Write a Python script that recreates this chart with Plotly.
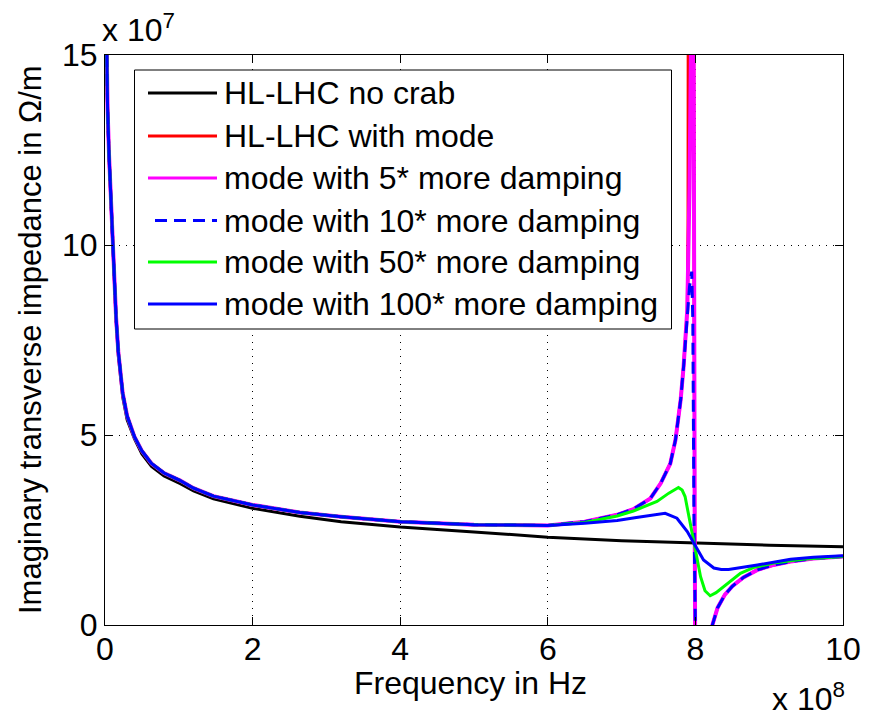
import plotly.graph_objects as go

# Values, in axis units:
# frequency in units of 1e8 Hz, impedance in units of 1e7 Ohm/m.

f_black = [0.01, 0.022, 0.035, 0.054, 0.09, 0.12, 0.15, 0.18, 0.24, 0.3, 0.4, 0.5,
           0.63, 0.8, 1.02, 1.2, 1.47, 2.0, 2.64, 3.2, 4.0, 5.0, 6.0, 7.0, 8.0, 9.0, 10.0]
z_black = [17.0, 15.0, 13.5, 12.3, 10.5, 9.2, 8.0, 7.1, 6.0, 5.4, 4.9, 4.5,
           4.17, 3.92, 3.72, 3.53, 3.32, 3.07, 2.86, 2.72, 2.58, 2.45, 2.31, 2.22, 2.16, 2.1, 2.06]

# all curves with the mode coincide below ~6e8 Hz
f_shared = [0.01, 0.022, 0.035, 0.054, 0.09, 0.12, 0.15, 0.18, 0.24, 0.3, 0.4, 0.5,
            0.63, 0.8, 1.02, 1.2, 1.47, 2.0, 2.64, 3.2, 4.0, 5.0, 6.0]
z_shared = [17.0, 15.0, 13.6, 12.4, 10.6, 9.3, 8.1, 7.2, 6.1, 5.5, 4.95, 4.58,
            4.25, 4.0, 3.8, 3.6, 3.39, 3.16, 2.96, 2.85, 2.72, 2.64, 2.62]

f_red_tail = [6.5, 6.94, 7.16, 7.39, 7.53, 7.66, 7.73, 7.80, 7.84, 7.89, 7.90, 7.915, 7.93,
              7.975, 7.99, 8.02, 8.05, 8.09, 8.13, 8.18, 8.23, 8.3, 8.4, 8.5, 8.65, 8.84, 9.06, 9.29, 9.6, 10.0]
z_red_tail = [2.72, 2.9, 3.05, 3.33, 3.73, 4.25, 4.87, 5.92, 6.8, 8.3, 10.5, 15.5, 80.0,
              17.0, 3.0, -12.0, -9.5, -5.5, -3.0, -1.2, 0.0, 0.45, 0.8, 1.02, 1.25, 1.45, 1.58, 1.67, 1.75, 1.8]

f_mag_tail = [6.5, 6.94, 7.16, 7.39, 7.53, 7.66, 7.73, 7.80, 7.84, 7.89, 7.92, 7.95, 7.975,
              7.99, 8.02, 8.05, 8.09, 8.13, 8.18, 8.23, 8.3, 8.4, 8.5, 8.65, 8.84, 9.06, 9.29, 9.6, 10.0]
z_mag_tail = [2.72, 2.9, 3.05, 3.33, 3.73, 4.25, 4.87, 5.92, 6.8, 8.3, 11.5, 17.0, 17.0,
              3.0, -12.0, -9.5, -5.5, -3.0, -1.2, 0.0, 0.45, 0.8, 1.02, 1.25, 1.45, 1.58, 1.67, 1.75, 1.8]

f_d10_tail = [6.5, 6.94, 7.16, 7.39, 7.53, 7.66, 7.73, 7.80, 7.84, 7.89, 7.92, 7.95, 7.965,
              7.98, 7.99, 8.01, 8.03, 8.06, 8.1, 8.16, 8.23, 8.3, 8.4, 8.5, 8.65, 8.84, 9.06, 9.29, 9.6, 10.0]
z_d10_tail = [2.72, 2.9, 3.05, 3.33, 3.73, 4.25, 4.87, 5.92, 6.8, 8.1, 8.9, 9.3, 8.0,
              3.0, -1.0, -4.5, -4.8, -4.2, -2.5, -1.0, 0.0, 0.45, 0.8, 1.02, 1.25, 1.45, 1.58, 1.67, 1.75, 1.8]

f_d50_tail = [6.5, 6.94, 7.16, 7.48, 7.64, 7.72, 7.77, 7.82, 7.86, 7.93, 8.0, 8.07, 8.13,
              8.2, 8.28, 8.38, 8.47, 8.61, 8.8, 9.06, 9.5, 10.0]
z_d50_tail = [2.7, 2.87, 3.0, 3.25, 3.47, 3.57, 3.62, 3.55, 3.38, 2.68, 1.97, 1.27, 0.9,
              0.77, 0.85, 1.01, 1.14, 1.36, 1.52, 1.63, 1.74, 1.8]

f_d100_tail = [6.5, 6.94, 7.2, 7.39, 7.59, 7.75, 7.89, 7.98, 8.11, 8.25, 8.35, 8.45,
               8.6, 8.84, 9.29, 9.6, 10.0]
z_d100_tail = [2.68, 2.75, 2.83, 2.89, 2.94, 2.81, 2.46, 2.15, 1.71, 1.5, 1.46, 1.46,
               1.5, 1.58, 1.73, 1.78, 1.82]

legend_labels = ["HL-LHC no crab", "HL-LHC with mode", "mode with 5* more damping",
                 "mode with 10* more damping", "mode with 50* more damping",
                 "mode with 100* more damping"]
x_ticks = [0, 2, 4, 6, 8, 10]
y_ticks = [0, 5, 10, 15]

FONT = "Liberation Sans, Arial, sans-serif"
FS = 32
FS_Y = 31
LW = 3

series = [
    (f_black, z_black, "#000000", "solid", LW),
    (f_shared + f_red_tail, z_shared + z_red_tail, "#ff0000", "solid", LW),
    (f_shared + f_mag_tail, z_shared + z_mag_tail, "#ff00ff", "solid", 4),
    (f_shared + f_d10_tail, z_shared + z_d10_tail, "#0000ff", "12px,7px", LW),
    (f_shared + f_d50_tail, z_shared + z_d50_tail, "#00ff00", "solid", LW),
    (f_shared + f_d100_tail, z_shared + z_d100_tail, "#0000ff", "solid", LW),
]

fig = go.Figure()
for (fx, zy, col, dash, lw), name in zip(series, legend_labels):
    fig.add_trace(go.Scatter(x=fx, y=zy, mode="lines", name=name,
                             line=dict(color=col, width=lw, dash=dash),
                             showlegend=False, hoverinfo="skip"))

# page offset of the figure (browser body margin)
OFF = 8
PL, PR, PT, PB = 105, 843, 55, 625   # plot area in page pixels
W, H = 870 - OFF, 710 - OFF
L, T = PL - OFF, PT - OFF
R = OFF + W - PR
B = OFF + H - PB
pw, ph = PR - PL, PB - PT

def px(x):
    return (x - PL) / pw

def py(y):
    return (PB - y) / ph

shapes = []
annotations = []
# legend box
shapes.append(dict(type="rect", xref="paper", yref="paper",
                   x0=px(134.5), x1=px(671.5), y0=py(329), y1=py(70),
                   fillcolor="white", line=dict(color="black", width=1), layer="above"))
rows = [93, 136, 178, 220.5, 262, 304]
for (fx, zy, col, dash, lw), name, ry in zip(series, legend_labels, rows):
    x0 = 155 if dash != "solid" else 148
    shapes.append(dict(type="line", xref="paper", yref="paper",
                       x0=px(x0), x1=px(217), y0=py(ry), y1=py(ry),
                       line=dict(color=col, width=LW, dash=dash), layer="above"))
    annotations.append(dict(text=name, xref="paper", yref="paper", x=px(222), y=py(ry),
                            xanchor="left", yanchor="middle", showarrow=False,
                            font=dict(family=FONT, size=FS, color="black")))

# axis titles and multipliers
annotations.append(dict(text="Frequency in Hz", xref="paper", yref="paper", x=px(470), y=py(683),
                        xanchor="center", yanchor="middle", showarrow=False,
                        font=dict(family=FONT, size=FS, color="black")))
annotations.append(dict(text="Imaginary transverse impedance in Ω/m", xref="paper", yref="paper",
                        x=px(30), y=py(340), xanchor="center", yanchor="middle", textangle=-90,
                        showarrow=False, font=dict(family=FONT, size=FS_Y, color="black")))
annotations.append(dict(text="x 10<sup>7</sup>", xref="paper", yref="paper", x=px(100), y=py(50),
                        xanchor="left", yanchor="bottom", showarrow=False,
                        font=dict(family=FONT, size=FS, color="black")))
annotations.append(dict(text="x 10<sup>8</sup>", xref="paper", yref="paper", x=px(847), y=py(675),
                        xanchor="right", yanchor="top", showarrow=False,
                        font=dict(family=FONT, size=FS, color="black")))

axis_common = dict(showline=True, linecolor="black", linewidth=1, mirror="ticks",
                   ticks="inside", ticklen=8, tickcolor="black", tickwidth=1,
                   showgrid=True, gridcolor="black", gridwidth=1, griddash="1px,6px",
                   zeroline=False, tickfont=dict(family=FONT, size=FS, color="black"))

fig.update_layout(
    width=W, height=H,
    margin=dict(l=L, r=R, t=T, b=B, pad=0, autoexpand=False),
    paper_bgcolor="white", plot_bgcolor="white",
    xaxis=dict(range=[0, 10], tickvals=x_ticks, ticktext=[str(v) for v in x_ticks],
               automargin=False, ticklabelstandoff=-4, **axis_common),
    yaxis=dict(range=[0, 15], tickvals=y_ticks, ticktext=[str(v) for v in y_ticks],
               automargin=False, **axis_common),
    shapes=shapes, annotations=annotations, showlegend=False,
)

fig.write_html("out.html")
